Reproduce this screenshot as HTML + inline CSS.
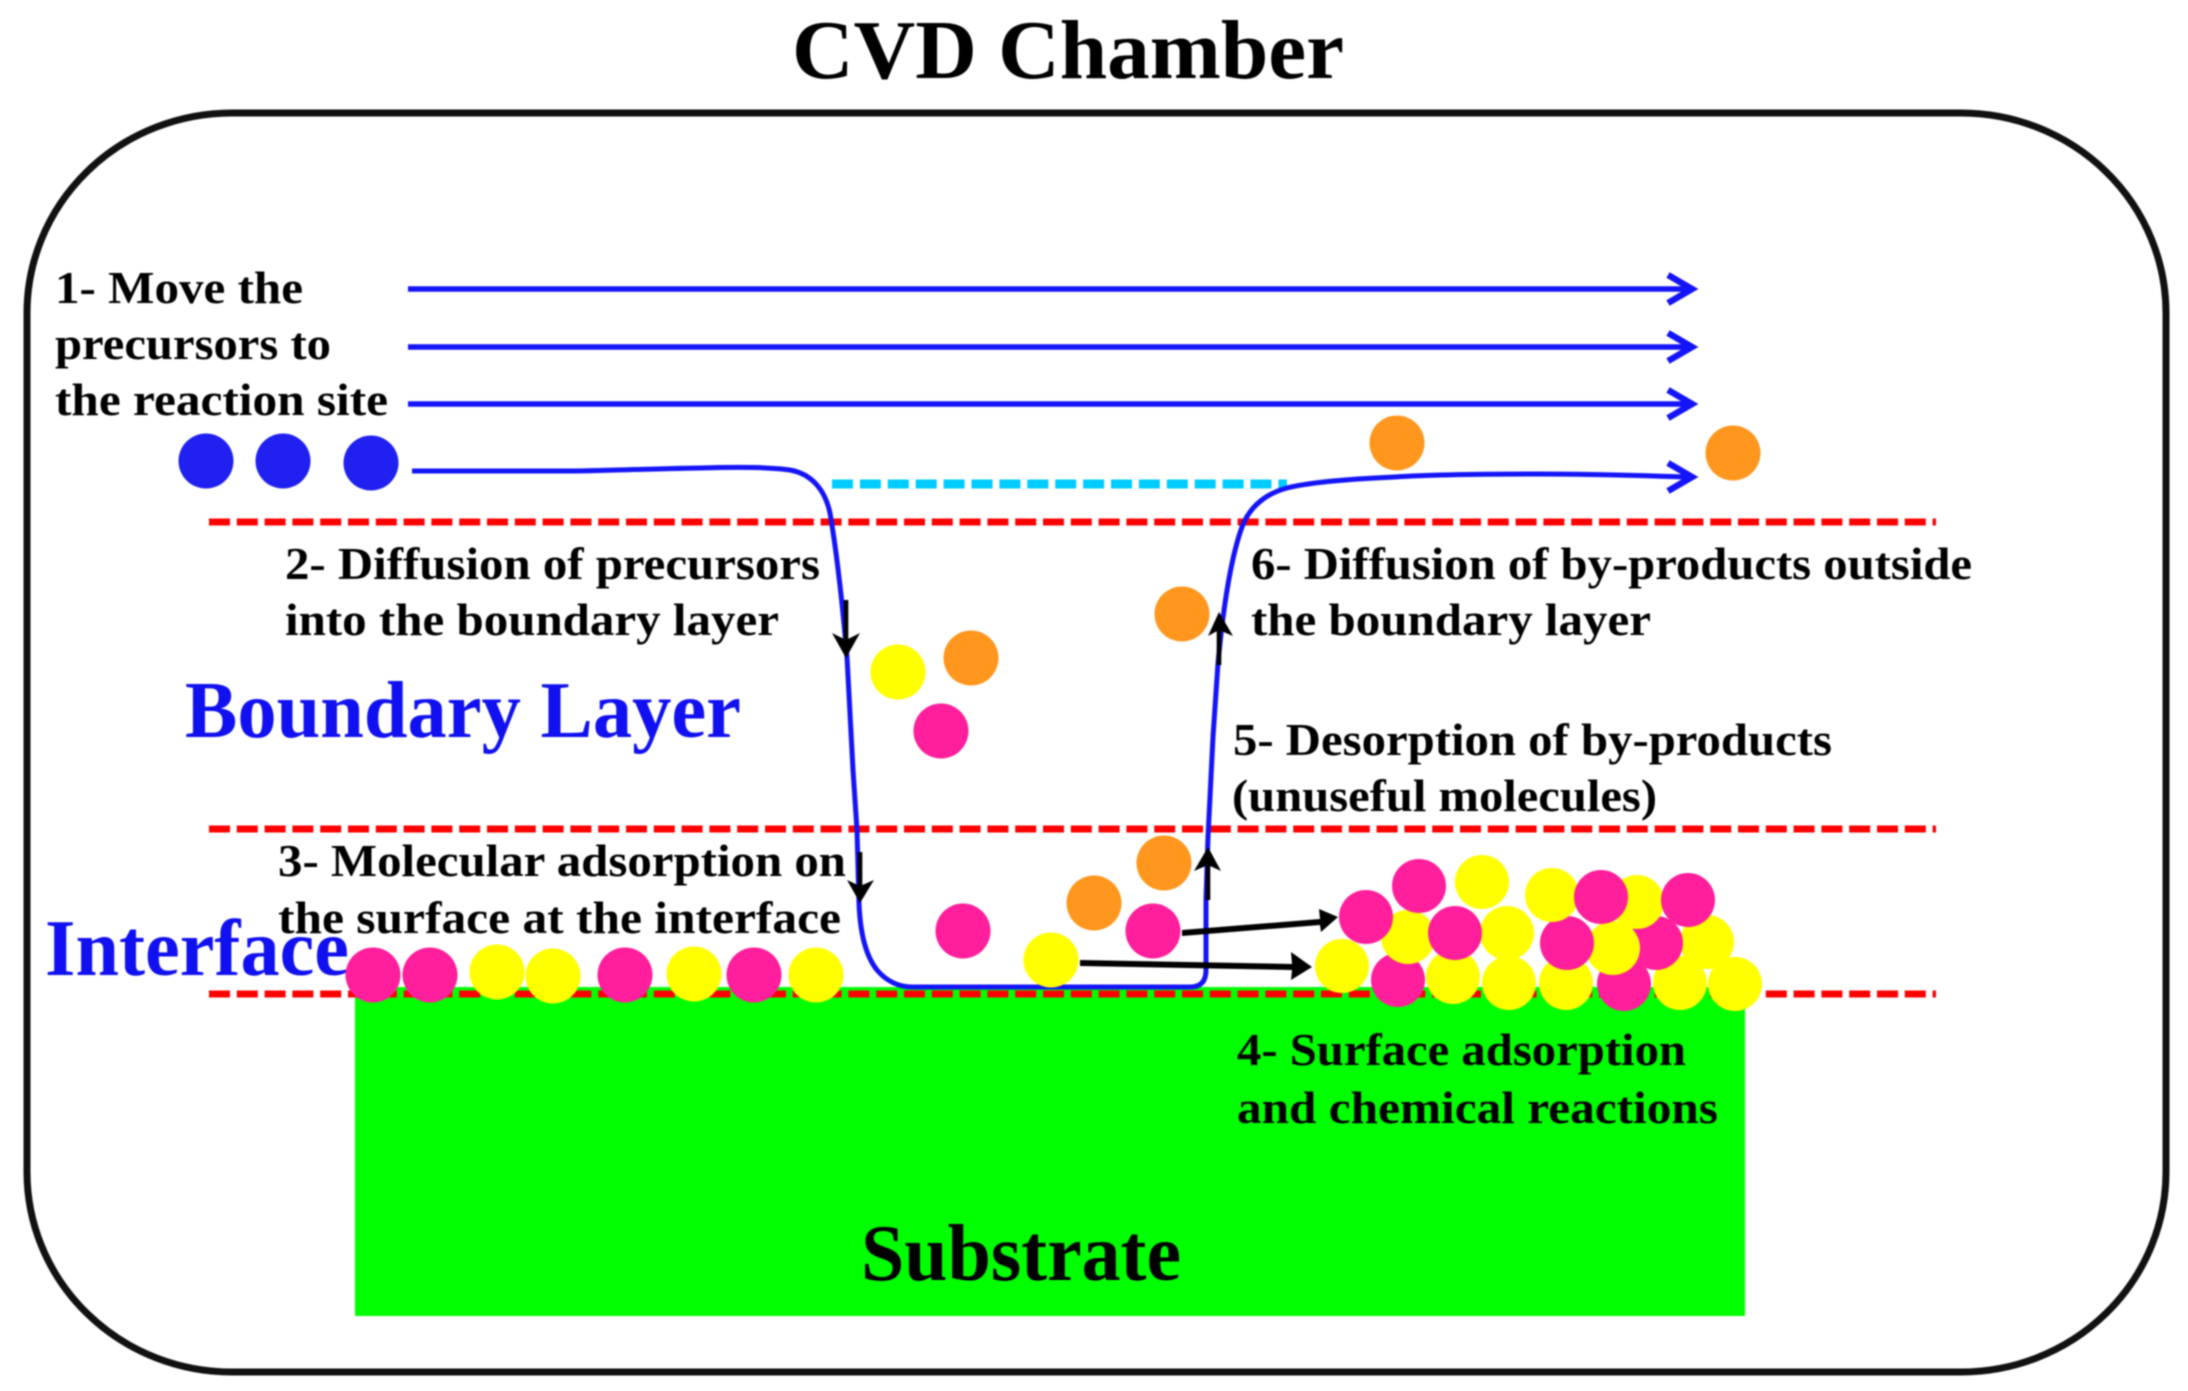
<!DOCTYPE html>
<html>
<head>
<meta charset="utf-8">
<title>CVD Chamber</title>
<style>
html,body{margin:0;padding:0;background:#fff;width:2188px;height:1391px;overflow:hidden}
svg{display:block;filter:blur(0.9px)}
text{font-family:"Liberation Serif",serif;font-weight:bold;fill:#000}
.s{font-size:46px}
.b{font-size:80px;fill:#1010f0}
</style>
</head>
<body>
<svg width="2188" height="1391" viewBox="0 0 2188 1391" xmlns="http://www.w3.org/2000/svg">
<rect width="2188" height="1391" fill="#fff"/>
<text x="792" y="78" font-size="84" textLength="552" lengthAdjust="spacingAndGlyphs">CVD Chamber</text>
<rect x="27" y="113" width="2139" height="1259" rx="205" ry="200" fill="#fff" stroke="#111" stroke-width="7"/>
<rect x="355" y="987" width="1390" height="329" fill="#00ff00"/>
<g stroke="#ff0000" stroke-width="7" stroke-dasharray="21 6.8" fill="none">
<line x1="209" y1="522" x2="1936" y2="522"/>
<line x1="209" y1="829" x2="1936" y2="829"/>
<line x1="209" y1="994" x2="1936" y2="994"/>
</g>
<line x1="832" y1="484" x2="1287" y2="484" stroke="#00ccff" stroke-width="9" stroke-dasharray="21 6.9"/>
<g stroke="#1414f8" fill="none" stroke-width="5.5">
<line x1="408" y1="289" x2="1690" y2="289"/>
<line x1="408" y1="347" x2="1690" y2="347"/>
<line x1="408" y1="404" x2="1690" y2="404"/>
<path d="M1668 275L1692 289L1668 303M1668 333L1692 347L1668 361M1668 390L1692 404L1668 418M1668 463L1692 477L1668 491" stroke-width="6.5"/>
<path d="M412 471L567 471C600 471 640 469 700 468C735 467 770 467 790 470C812 474 825 490 830 513C838 560 843 610 847 657L853 770L857 830L859 903C860 930 865 955 877 970C887 982 900 987 912 987L1190 987C1202 987 1206 980 1206 970L1206 900L1208 837L1213 737L1218 663C1223 610 1230 560 1242 527C1250 505 1268 493 1287 488C1310 482 1350 479 1394 477C1440 474 1500 474 1537 474C1600 474 1650 476 1690 477" stroke-width="5"/>
</g>
<g fill="#000" stroke="none">
<rect x="843.7" y="600" width="4.6" height="45"/>
<path d="M832 633L846 640L860 633L846 658Z"/>
<rect x="857.7" y="852" width="4.6" height="38"/>
<path d="M847 880L860 886L874 880L860 903Z"/>
<rect x="1216.7" y="625" width="4.6" height="40"/>
<path d="M1208 636L1219 630L1233 636L1219 612Z"/>
<rect x="1205.7" y="860" width="4.6" height="40"/>
<path d="M1194 871L1208 865L1221 871L1208 847Z"/>
<path d="M1182 930L1320 919L1319 909L1338 917L1321 932L1320 925L1182 936Z"/>
<path d="M1080 960L1292 964L1291 952L1312 967L1291 980L1292 970L1080 966Z"/>
</g>
<text class="s" x="55" y="303" textLength="248" lengthAdjust="spacingAndGlyphs">1- Move the</text>
<text class="s" x="55" y="359" textLength="276" lengthAdjust="spacingAndGlyphs">precursors to</text>
<text class="s" x="55" y="415" textLength="333" lengthAdjust="spacingAndGlyphs">the reaction site</text>
<text class="s" x="285" y="579" textLength="535" lengthAdjust="spacingAndGlyphs">2- Diffusion of precursors</text>
<text class="s" x="285" y="635" textLength="494" lengthAdjust="spacingAndGlyphs">into the boundary layer</text>
<text class="s" x="1251" y="579" textLength="721" lengthAdjust="spacingAndGlyphs">6- Diffusion of by-products outside</text>
<text class="s" x="1251" y="635" textLength="400" lengthAdjust="spacingAndGlyphs">the boundary layer</text>
<text class="s" x="1233" y="755" textLength="599" lengthAdjust="spacingAndGlyphs">5- Desorption of by-products</text>
<text class="s" x="1232" y="811" textLength="425" lengthAdjust="spacingAndGlyphs">(unuseful molecules)</text>
<text class="s" x="278" y="876" textLength="568" lengthAdjust="spacingAndGlyphs">3- Molecular adsorption on</text>
<text class="s" x="278" y="933" textLength="563" lengthAdjust="spacingAndGlyphs">the surface at the interface</text>
<text class="s" x="1237" y="1065" textLength="449" lengthAdjust="spacingAndGlyphs">4- Surface adsorption</text>
<text class="s" x="1237" y="1123" textLength="481" lengthAdjust="spacingAndGlyphs">and chemical reactions</text>
<text class="b" x="185" y="737" textLength="556" lengthAdjust="spacingAndGlyphs">Boundary Layer</text>
<text class="b" x="45" y="975" textLength="304" lengthAdjust="spacingAndGlyphs">Interface</text>
<text x="861" y="1280" font-size="80" textLength="320" lengthAdjust="spacingAndGlyphs">Substrate</text>
<g fill="#2020f0">
<circle cx="206" cy="461" r="27.5"/><circle cx="283" cy="461" r="27.5"/><circle cx="371" cy="463" r="27.5"/>
</g>
<g fill="#ff961e">
<circle cx="1397" cy="443" r="27.5"/><circle cx="1733" cy="453" r="27.5"/><circle cx="1182" cy="614" r="27.5"/>
<circle cx="971" cy="658" r="27.5"/><circle cx="1164" cy="863" r="27.5"/><circle cx="1094" cy="903" r="27.5"/>
</g>
<g fill="#ff1e9b">
<circle cx="941" cy="731" r="27.5"/><circle cx="963" cy="931" r="27.5"/><circle cx="1153" cy="931" r="27.5"/>
<circle cx="373" cy="975" r="27.5"/><circle cx="430" cy="975" r="27.5"/><circle cx="625" cy="975" r="27.5"/><circle cx="754" cy="975" r="27.5"/>
</g>
<g fill="#ffff00">
<circle cx="898" cy="672" r="27.5"/><circle cx="1051" cy="960" r="27.5"/>
<circle cx="497" cy="972" r="27.5"/><circle cx="553" cy="976" r="27.5"/><circle cx="694" cy="974" r="27.5"/><circle cx="816" cy="975" r="27.5"/>
</g>
<circle cx="1342" cy="966" r="27" fill="#ffff00"/>
<circle cx="1398" cy="980" r="27" fill="#ff1e9b"/>
<circle cx="1453" cy="977" r="27" fill="#ffff00"/>
<circle cx="1509" cy="983" r="27" fill="#ffff00"/>
<circle cx="1566" cy="983" r="27" fill="#ffff00"/>
<circle cx="1624" cy="984" r="27" fill="#ff1e9b"/>
<circle cx="1680" cy="983" r="27" fill="#ffff00"/>
<circle cx="1735" cy="984" r="27" fill="#ffff00"/>
<circle cx="1707" cy="942" r="27" fill="#ffff00"/>
<circle cx="1656" cy="943" r="27" fill="#ff1e9b"/>
<circle cx="1613" cy="948" r="27" fill="#ffff00"/>
<circle cx="1567" cy="943" r="27" fill="#ff1e9b"/>
<circle cx="1507" cy="933" r="27" fill="#ffff00"/>
<circle cx="1408" cy="937" r="27" fill="#ffff00"/>
<circle cx="1455" cy="933" r="27" fill="#ff1e9b"/>
<circle cx="1366" cy="917" r="27" fill="#ff1e9b"/>
<circle cx="1419" cy="886" r="27" fill="#ff1e9b"/>
<circle cx="1482" cy="882" r="27" fill="#ffff00"/>
<circle cx="1552" cy="895" r="27" fill="#ffff00"/>
<circle cx="1637" cy="902" r="27" fill="#ffff00"/>
<circle cx="1601" cy="897" r="27" fill="#ff1e9b"/>
<circle cx="1688" cy="900" r="27" fill="#ff1e9b"/>
</svg>
</body>
</html>
